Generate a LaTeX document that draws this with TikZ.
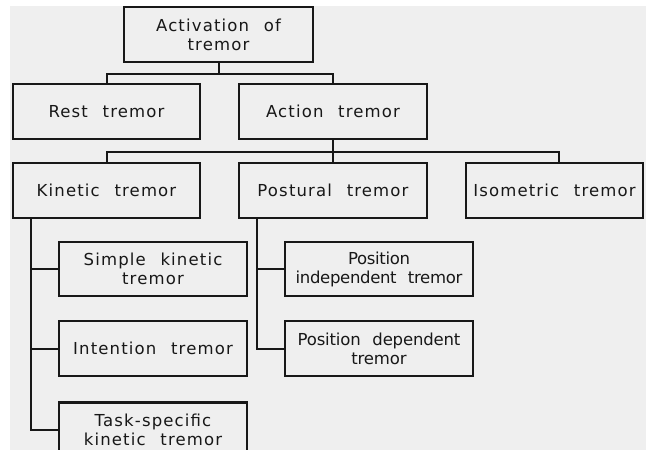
\documentclass[tikz,border=0pt]{standalone}
\usepackage{fontspec}
\setmainfont{DejaVu Sans}[LetterSpace=7,WordSpace=2.3]
\usepackage{xcolor}
\usetikzlibrary{positioning,calc}
\definecolor{paper}{HTML}{EFEFEF}
\definecolor{ink}{HTML}{181818}
\tikzstyle{tbox}=[draw=ink, line width=2.2pt, fill=paper, text=ink, minimum width=188pt, minimum height=55pt, inner sep=0pt, align=center, font=\fontsize{16.5}{19}\selectfont]
\tikzstyle{link}=[draw=ink, line width=2pt]
\newcommand{\tight}[1]{\addfontfeatures{LetterSpace=#1}}

\begin{document}
\begin{tikzpicture}[x=1pt, y=-1pt, node distance=23pt]
 \fill[white] (0,0) rectangle (646,450);
 \fill[paper] (10,6) rectangle (646,450);
 \clip (0,0) rectangle (646,450);

      % top levels
      \node (act)[tbox, minimum width=189pt] at (218.5,34.5) {Activation of\\tremor};
      \node (rest)[tbox, minimum width=187pt] at (106.5,111.5) {Rest tremor};
      \node (action)[tbox] at (333,111.5) {Action tremor};
      \node (kin)[tbox, minimum width=187pt] at (106.5,190.5) {Kinetic tremor};
      \node (post)[tbox] at (333,190.5) {Postural tremor};
      \node (iso)[tbox, minimum width=177pt] at (554.5,190.5) {Isometric tremor};

      % kinetic branch
      \node (simple)[tbox, minimum height=54pt] at (153,269) {Simple kinetic\\tremor};
      \node [tbox, below=of simple] (intent) {Intention tremor};
      \node [tbox, below=24pt of intent] (task) {Task-specific\\kinetic tremor};

      % postural branch
      \node (posind)[tbox, minimum height=54pt] at (379,269) {\tight{-2}Position\\\tight{-2}independent tremor};
      \node [tbox, below=of posind] (posdep) {\tight{-1}Position dependent\\\tight{-1}tremor};

 \coordinate (j1) at (218.5,74);
 \coordinate (j2) at (333,152);
 \coordinate (kt) at ($(kin.south west)+(19,0)$);
 \coordinate (pt) at ($(post.south west)+(19,0)$);

 \draw[link] (act.south) -- (j1);
 \draw[link] (rest.north) |- (j1) -| (action.north);
 \draw[link] (action.south) -- (j2) -- (post.north);
 \draw[link] (kin.north) |- (j2) -| ($(iso.north)+(4.5,0)$);

 \draw[link] (kt) |- (simple.west);
 \draw[link] (kt) |- (intent.west);
 \draw[link] (kt) |- (task.west);
 \draw[link] (pt) |- (posind.west);
 \draw[link] (pt) |- (posdep.west);

\end{tikzpicture}
\end{document}
